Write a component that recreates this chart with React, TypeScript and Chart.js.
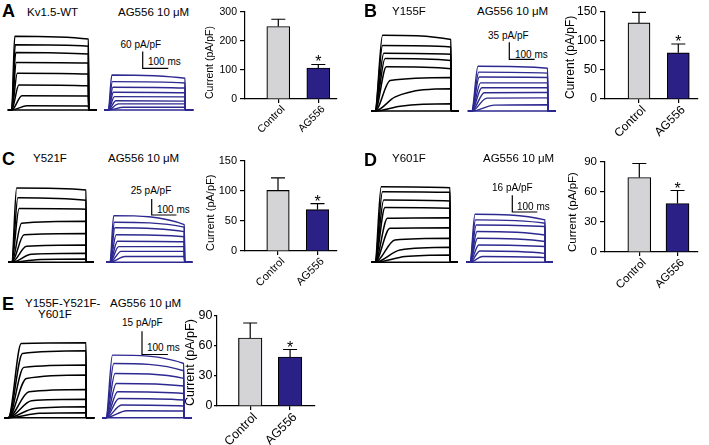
import React, { useEffect, useRef } from 'react';
import { Chart, registerables } from 'chart.js';

Chart.register(...registerables);

const FONT = "'Liberation Sans', Arial, Helvetica, sans-serif";
Chart.defaults.font.family = FONT;
Chart.defaults.color = '#000';

const INK = '#000000';
const DRUG_LINE = '#2d2990';
const DRUG_BAR = '#2a2086';
const CTRL_BAR = '#d4d4d6';

// [time to plateau (ms), current at that time (pA/pF), current at pulse end (pA/pF)]
type Trace = [number, number, number];

const PULSE_MS = 300;
const SCALE_MS = 100;
const UNIT = 'pA/pF';
const BAR_LABELS = ['Control', 'AG556'];
const BAR_X = [1, 2];
const SIGNIFICANT = [false, true];
const AXIS_TITLE = 'Current (pA/pF)';
const DRUG_TITLE = 'AG556 10 \u03bcM';

// ---- Panel A: Kv1.5-WT
const A_CONTROL: Trace[] = [[12, 265, 255], [14, 234, 229], [16, 207, 201], [18, 171, 169], [22, 132, 129], [28, 90, 87], [40, 51, 50], [60, 15, 14]];
const A_DRUG: Trace[] = [[14, 126, 114], [16, 102, 97], [18, 82, 79], [20, 64, 62], [24, 48, 47], [30, 33, 32], [40, 22, 22], [60, 10, 10]];
const A_MEAN = [250, 107];
const A_SEM = [25, 12];
const A_TICKS = [0, 100, 200, 300];
const A_SCALE = 60;

// ---- Panel B: Y155F
const B_CONTROL: Trace[] = [[30, 156, 147], [30, 135, 132], [35, 119, 117], [40, 108, 104], [45, 91, 87], [60, 63, 69], [80, 29, 46], [100, 10, 15]];
const B_DRUG: Trace[] = [[25, 92, 88], [28, 80, 78], [30, 70, 69], [35, 58, 58], [40, 48, 48], [50, 37.5, 38], [60, 26.5, 27], [90, 12, 13]];
const B_MEAN = [130, 79];
const B_SEM = [18, 15];
const B_TICKS = [0, 50, 100, 150];
const B_SCALE = 35;

// ---- Panel C: Y521F
const C_CONTROL: Trace[] = [[20, 116, 113], [25, 101, 97], [30, 84, 83], [40, 61, 64], [50, 43, 45], [60, 25, 27], [80, 12.5, 14], [100, 4, 5]];
const C_DRUG: Trace[] = [[15, 73, 59], [18, 62.5, 55], [20, 54, 48], [25, 43, 40], [30, 33, 32], [35, 24.5, 24.5], [45, 17, 17], [60, 9, 9]];
const C_MEAN = [101, 69];
const C_SEM = [21, 10];
const C_TICKS = [0, 50, 100, 150];
const C_SCALE = 25;

// ---- Panel D: Y601F
const D_CONTROL: Trace[] = [[25, 72.5, 71.5], [30, 67.7, 67], [35, 59.7, 58.7], [40, 52.4, 51.7], [50, 42.2, 42.8], [60, 32.6, 33.2], [80, 21.4, 23], [100, 11.8, 14.4], [120, 5.5, 7]];
const D_DRUG: Trace[] = [[20, 46, 40.6], [22, 40.6, 37.4], [25, 35.8, 34.3], [28, 29.5, 26.2], [30, 23, 19.9], [35, 16.6, 15.1], [40, 10.8, 8.6], [50, 5.5, 4.5]];
const D_MEAN = [74.5, 48.5];
const D_SEM = [14, 13];
const D_TICKS = [0, 30, 60, 90];
const D_SCALE = 16;

// ---- Panel E: Y155F-Y521F-Y601F
const E_CONTROL: Trace[] = [[50, 47.8, 48.3], [55, 41.4, 43.1], [60, 32.4, 33.9], [70, 25.3, 27.5], [80, 16.7, 18.2], [90, 10.9, 11.8], [100, 6, 7.1], [120, 2.8, 3.2]];
const E_DRUG: Trace[] = [[25, 40.3, 34.9], [30, 34.9, 30.2], [35, 28.5, 25.3], [40, 22, 20.4], [45, 16.7, 15.6], [50, 12.4, 11.4], [60, 8.2, 7.5], [80, 4.5, 4.3]];
const E_MEAN = [68, 49];
const E_SEM = [15, 7.5];
const E_TICKS = [0, 30, 60, 90];
const E_SCALE = 15;

type Panel = {
  letter: string;
  letterPos: [number, number];
  names: { text: string; x: number; y: number }[];
  drugTitlePos: [number, number];
  control: Trace[];
  drug: Trace[];
  traceBox: [number, number, number, number];
  ctrlX0: number;
  drugX0: number;
  baseY: number;
  pxPerMs: number;
  pxPerUnit: number;
  scaleAmp: number;
  sbCorner: [number, number];
  ampLabelPos: [number, number];
  msLabelPos: [number, number];
  mean: number[];
  sem: number[];
  ticks: number[];
  axisX: number;
  topY: number;
  bottomY: number;
  rightX: number;
  c1: number;
  c2: number;
  barW: number;
  font: number;
  titleCX: number;
  yTickLen: number;
  yTickPad: number;
};

const PANELS: Panel[] = [
  {
    letter: 'A', letterPos: [2, 11],
    names: [{ text: 'Kv1.5-WT', x: 27, y: 12.5 }], drugTitlePos: [118, 12.5],
    control: A_CONTROL, drug: A_DRUG,
    traceBox: [0, 25, 200, 95], ctrlX0: 11.7, drugX0: 108.3, baseY: 110, pxPerMs: 0.2557, pxPerUnit: 16.7 / 60,
    scaleAmp: A_SCALE, sbCorner: [142.7, 68.3], ampLabelPos: [120.5, 44.5], msLabelPos: [148, 61.5],
    mean: A_MEAN, sem: A_SEM, ticks: A_TICKS,
    axisX: 245, topY: 12, bottomY: 99, rightX: 337, c1: 278.3, c2: 318.3, barW: 23, font: 10.5, titleCX: 210,
    yTickLen: 5, yTickPad: 3,
  },
  {
    letter: 'B', letterPos: [364, 11],
    names: [{ text: 'Y155F', x: 392, y: 12 }], drugTitlePos: [477, 12],
    control: B_CONTROL, drug: B_DRUG,
    traceBox: [360, 25, 200, 95], ctrlX0: 375, drugX0: 471.7, baseY: 111, pxPerMs: 0.253, pxPerUnit: 17 / 35,
    scaleAmp: B_SCALE, sbCorner: [509.3, 59.3], ampLabelPos: [488, 36], msLabelPos: [515, 55],
    mean: B_MEAN, sem: B_SEM, ticks: B_TICKS,
    axisX: 605, topY: 10.7, bottomY: 99, rightX: 698, c1: 639, c2: 678.3, barW: 22, font: 12, titleCX: 571,
    yTickLen: 5, yTickPad: 3,
  },
  {
    letter: 'C', letterPos: [2, 158.5],
    names: [{ text: 'Y521F', x: 33, y: 158.5 }], drugTitlePos: [108, 158.5],
    control: C_CONTROL, drug: C_DRUG,
    traceBox: [0, 175, 200, 95], ctrlX0: 11.7, drugX0: 110, baseY: 262.3, pxPerMs: 0.2477, pxPerUnit: 16 / 25,
    scaleAmp: C_SCALE, sbCorner: [151.7, 215], ampLabelPos: [130.7, 191], msLabelPos: [157, 210],
    mean: C_MEAN, sem: C_SEM, ticks: C_TICKS,
    axisX: 245, topY: 160.7, bottomY: 251, rightX: 337, c1: 278, c2: 317.5, barW: 22.5, font: 11, titleCX: 211,
    yTickLen: 5, yTickPad: 3,
  },
  {
    letter: 'D', letterPos: [364, 160],
    names: [{ text: 'Y601F', x: 392, y: 159 }], drugTitlePos: [483, 159],
    control: D_CONTROL, drug: D_DRUG,
    traceBox: [360, 175, 200, 95], ctrlX0: 375, drugX0: 470, baseY: 262.3, pxPerMs: 0.25, pxPerUnit: 16.7 / 16,
    scaleAmp: D_SCALE, sbCorner: [512.3, 212], ampLabelPos: [492, 188], msLabelPos: [517, 207],
    mean: D_MEAN, sem: D_SEM, ticks: D_TICKS,
    axisX: 605, topY: 161.7, bottomY: 251.7, rightX: 698, c1: 639.3, c2: 677.5, barW: 23, font: 11.5, titleCX: 573,
    yTickLen: 5, yTickPad: 3,
  },
  {
    letter: 'E', letterPos: [2, 304],
    names: [{ text: 'Y155F-Y521F-', x: 25, y: 304 }, { text: 'Y601F', x: 38, y: 314.5 }], drugTitlePos: [110, 304],
    control: E_CONTROL, drug: E_DRUG,
    traceBox: [0, 325, 200, 100], ctrlX0: 8.3, drugX0: 106, baseY: 417.7, pxPerMs: 0.259, pxPerUnit: 23.3 / 15,
    scaleAmp: E_SCALE, sbCorner: [142, 354.5], ampLabelPos: [122, 322.5], msLabelPos: [147, 348],
    mean: E_MEAN, sem: E_SEM, ticks: E_TICKS,
    axisX: 216.7, topY: 316, bottomY: 406, rightX: 315, c1: 250, c2: 290, barW: 23.5, font: 12.5, titleCX: 190,
    yTickLen: 3, yTickPad: 1.5,
  },
];

function tracePoints(t: Trace, shift: number) {
  const [rise, v1, v2] = t;
  return [
    { x: shift - 15, y: 0 },
    { x: shift, y: 0 },
    { x: shift + rise, y: v1 },
    { x: shift + PULSE_MS, y: v2 },
    { x: shift + PULSE_MS + 1, y: 0 },
    { x: shift + PULSE_MS + 32, y: 0 },
  ];
}

function TraceChart({ p }: { p: Panel }) {
  const ref = useRef<HTMLCanvasElement>(null);
  const [L, T, W, H] = p.traceBox;
  useEffect(() => {
    if (!ref.current) return;
    const xmin = (L - p.ctrlX0) / p.pxPerMs;
    const xmax = xmin + W / p.pxPerMs;
    const ymax = (p.baseY - T) / p.pxPerUnit;
    const ymin = ymax - H / p.pxPerUnit;
    const drugShift = (p.drugX0 - p.ctrlX0) / p.pxPerMs;
    const sbx = (p.sbCorner[0] - p.ctrlX0) / p.pxPerMs;
    const sby = (p.baseY - p.sbCorner[1]) / p.pxPerUnit;
    const line = (data: any[], color: string, width: number) => ({
      data,
      borderColor: color,
      borderWidth: width,
      pointRadius: 0,
      fill: false,
      cubicInterpolationMode: 'monotone' as const,
    });
    const datasets: any[] = [];
    const zero: Trace = [1, 0, 0];
    [...p.control, zero].forEach((t) => datasets.push(line(tracePoints(t, 0), INK, 1.5)));
    [...p.drug, zero].forEach((t) => datasets.push(line(tracePoints(t, drugShift), DRUG_LINE, 1.4)));
    datasets.push({
      data: [
        { x: sbx, y: sby + p.scaleAmp },
        { x: sbx, y: sby },
        { x: sbx + SCALE_MS, y: sby },
      ],
      borderColor: INK,
      borderWidth: 1.2,
      pointRadius: 0,
      tension: 0,
      fill: false,
    });
    const chart = new Chart(ref.current, {
      type: 'line',
      data: { datasets },
      options: {
        responsive: false,
        animation: false,
        events: [],
        layout: { padding: 0 },
        plugins: { legend: { display: false }, tooltip: { enabled: false } },
        scales: {
          x: { type: 'linear', display: false, min: xmin, max: xmax },
          y: { type: 'linear', display: false, min: ymin, max: ymax },
        },
      },
    });
    return () => chart.destroy();
  }, []);
  return <canvas ref={ref} width={W} height={H} style={{ position: 'absolute', left: L, top: T, width: W, height: H }} />;
}

function BarChart({ p }: { p: Panel }) {
  const ref = useRef<HTMLCanvasElement>(null);
  const yAxisW = 48;
  const padTop = 10;
  const padRight = 8;
  const xAxisH = 52;
  const left = p.axisX - yAxisW;
  const top = p.topY - padTop;
  const W = Math.round(p.rightX - left + padRight);
  const H = Math.round(p.bottomY - top + xAxisH);
  useEffect(() => {
    if (!ref.current) return;
    const unit = p.c2 - p.c1;
    const xmin = 1 - (p.c1 - p.axisX) / unit;
    const xmax = 2 + (p.rightX - p.c2) / unit;
    const lh = p.font * 1.2;
    const titlePad = Math.max(0, p.titleCX - left - lh / 2);
    const errPlugin = {
      id: 'errbars',
      afterDatasetsDraw(chart: any) {
        const meta = chart.getDatasetMeta(0);
        const ys = chart.scales.y;
        const ctx = chart.ctx;
        ctx.save();
        ctx.strokeStyle = INK;
        ctx.lineWidth = 1.2;
        meta.data.forEach((bar: any, i: number) => {
          const topPx = ys.getPixelForValue(p.mean[i] + p.sem[i]);
          ctx.beginPath();
          ctx.moveTo(bar.x, bar.y);
          ctx.lineTo(bar.x, topPx);
          ctx.moveTo(bar.x - 7, topPx);
          ctx.lineTo(bar.x + 7, topPx);
          ctx.stroke();
          if (SIGNIFICANT[i]) {
            ctx.fillStyle = INK;
            ctx.font = `16px ${FONT}`;
            ctx.textAlign = 'center';
            ctx.textBaseline = 'alphabetic';
            ctx.fillText('*', bar.x, topPx + 3);
          }
        });
        ctx.restore();
      },
    };
    const chart = new Chart(ref.current, {
      type: 'bar',
      data: {
        datasets: [
          {
            data: p.mean.map((v, i) => ({ x: BAR_X[i], y: v })),
            backgroundColor: [CTRL_BAR, DRUG_BAR],
            borderColor: INK,
            borderWidth: 1.2,
            barThickness: p.barW,
          },
        ],
      },
      options: {
        responsive: false,
        animation: false,
        events: [],
        layout: { padding: { left: 0, top: padTop, right: padRight, bottom: 0 } },
        plugins: { legend: { display: false }, tooltip: { enabled: false } },
        scales: {
          x: {
            type: 'linear',
            min: xmin,
            max: xmax,
            offset: false,
            afterBuildTicks: (s: any) => {
              s.ticks = BAR_X.map((v) => ({ value: v }));
            },
            afterFit: (s: any) => {
              s.height = xAxisH;
            },
            ticks: {
              autoSkip: false,
              minRotation: 45,
              maxRotation: 45,
              padding: 0,
              labelOffset: 5,
              color: INK,
              font: { size: p.font },
              callback: (v: any) => BAR_LABELS[BAR_X.indexOf(Number(v))] ?? '',
            },
            grid: { display: true, drawOnChartArea: false, drawTicks: true, tickLength: 4, color: INK, offset: false, lineWidth: 1.2 },
            border: { display: true, color: INK, width: 1.2 },
          },
          y: {
            type: 'linear',
            min: p.ticks[0],
            max: p.ticks[p.ticks.length - 1],
            afterBuildTicks: (s: any) => {
              s.ticks = p.ticks.map((v) => ({ value: v }));
            },
            afterFit: (s: any) => {
              s.width = yAxisW;
            },
            ticks: { color: INK, padding: p.yTickPad, font: { size: p.font } },
            grid: { display: true, drawOnChartArea: false, drawTicks: true, tickLength: p.yTickLen, color: INK, lineWidth: 1.2 },
            border: { display: true, color: INK, width: 1.2 },
            title: {
              display: true,
              text: AXIS_TITLE,
              align: 'start',
              color: INK,
              font: { size: p.font },
              padding: { top: titlePad, bottom: 0 },
            },
          },
        },
      },
      plugins: [errPlugin],
    });
    return () => chart.destroy();
  }, []);
  return <canvas ref={ref} width={W} height={H} style={{ position: 'absolute', left, top, width: W, height: H }} />;
}

function Txt({ x, y, size, bold, children }: { x: number; y: number; size: number; bold?: boolean; children: React.ReactNode }) {
  return (
    <div
      style={{
        position: 'absolute',
        left: x,
        top: y,
        transform: 'translateY(-50%)',
        fontSize: size,
        fontWeight: bold ? 700 : 400,
        fontFamily: FONT,
        lineHeight: 1,
        whiteSpace: 'nowrap',
        color: '#000',
      }}
    >
      {children}
    </div>
  );
}

export default function App() {
  return (
    <div style={{ position: 'absolute', left: 0, top: 0, width: 709, height: 445, background: '#fff', overflow: 'hidden' }}>
      {PANELS.map((p) => (
        <React.Fragment key={p.letter}>
          <Txt x={p.letterPos[0]} y={p.letterPos[1]} size={18} bold>
            {p.letter}
          </Txt>
          {p.names.map((n) => (
            <Txt key={n.text} x={n.x} y={n.y} size={11.5}>
              {n.text}
            </Txt>
          ))}
          <Txt x={p.drugTitlePos[0]} y={p.drugTitlePos[1]} size={11.5}>
            {DRUG_TITLE}
          </Txt>
          <Txt x={p.ampLabelPos[0]} y={p.ampLabelPos[1]} size={10}>
            {`${p.scaleAmp} ${UNIT}`}
          </Txt>
          <Txt x={p.msLabelPos[0]} y={p.msLabelPos[1]} size={10}>
            {`${SCALE_MS} ms`}
          </Txt>
          <TraceChart p={p} />
          <BarChart p={p} />
        </React.Fragment>
      ))}
    </div>
  );
}
